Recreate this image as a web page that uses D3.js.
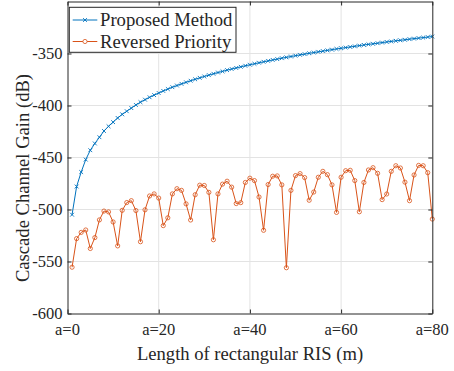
<!DOCTYPE html>
<html><head><meta charset="utf-8"><script src="https://cdn.jsdelivr.net/npm/d3@7"></script></head>
<body style="margin:0">
<script>
// RIS length index a = 1..80
const aValues = d3.range(1, 81);

const proposed = [
  -505.0, -477.9, -464.0, -452.0, -443.0, -436.5, -430.5, -424.5, -420.0, -416.0,
  -412.0, -408.5, -405.5, -402.5, -399.5, -396.8, -394.4, -392.1, -390.0, -388.0,
  -386.0, -384.2, -382.4, -380.8, -379.2, -377.7, -376.2, -374.8, -373.4, -372.1,
  -370.8, -369.5, -368.3, -367.2, -366.0, -364.9, -363.9, -362.8, -361.8, -360.8,
  -359.9, -358.9, -358.0, -357.1, -356.2, -355.4, -354.5, -353.7, -352.9, -352.1,
  -351.3, -350.6, -349.8, -349.1, -348.4, -347.7, -347.0, -346.3, -345.6, -345.0,
  -344.3, -343.7, -343.1, -342.4, -341.8, -341.2, -340.7, -340.1, -339.5, -338.9,
  -338.4, -337.8, -337.3, -336.8, -336.2, -335.7, -335.2, -334.7, -334.2, -333.7
];

const reversed = [
  -555.5, -528.0, -522.0, -519.7, -537.5, -527.0, -510.0, -501.5, -502.3, -512.0,
  -535.0, -500.8, -493.3, -491.5, -501.0, -531.0, -500.3, -487.0, -485.0, -489.0,
  -515.5, -508.0, -485.0, -480.0, -481.6, -494.6, -510.1, -485.8, -476.6, -476.9,
  -483.5, -529.1, -485.0, -475.6, -472.8, -478.5, -494.3, -493.4, -474.0, -469.9,
  -472.2, -488.0, -520.0, -476.0, -468.0, -467.7, -476.3, -556.0, -481.6, -467.4,
  -465.5, -469.3, -491.1, -483.2, -469.0, -463.3, -466.5, -476.3, -502.8, -469.0,
  -462.7, -462.3, -472.2, -502.2, -474.0, -462.0, -459.8, -465.2, -490.5, -485.1,
  -463.3, -457.9, -460.1, -473.7, -491.5, -466.8, -457.6, -457.9, -464.6, -509.2
];

const xTicks = [0, 20, 40, 60, 80];
const yTicks = [-600, -550, -500, -450, -400, -350];
const seriesNames = ["Proposed Method", "Reversed Priority"];
const colors = ["#0072BD", "#D95319"];

const width = 454, height = 371;
const plot = { left: 67.5, right: 432.3, top: 1.5, bottom: 313.5 };
const serif = "Liberation Serif";
const ink = "#262626";

const svg = d3.select("body").append("svg")
  .attr("width", width).attr("height", height)
  .attr("font-family", serif);

const x = d3.scaleLinear().domain([0, 80]).range([plot.left, plot.right]);
const y = d3.scaleLinear().domain([-600, -300]).range([plot.bottom, plot.top]);

// grid
const grid = svg.append("g").attr("stroke", "#e3e3e3").attr("stroke-width", 1);
grid.selectAll(".gx").data(xTicks.slice(1, -1)).join("line")
  .attr("x1", d => x(d)).attr("x2", d => x(d))
  .attr("y1", plot.top).attr("y2", plot.bottom);
grid.selectAll(".gy").data(yTicks.slice(1)).join("line")
  .attr("x1", plot.left).attr("x2", plot.right)
  .attr("y1", d => y(d)).attr("y2", d => y(d));

// series
const series = [proposed, reversed];
series.forEach((vals, i) => {
  const pts = vals.map((v, k) => [aValues[k], v]);
  svg.append("path")
    .datum(pts)
    .attr("fill", "none")
    .attr("stroke", colors[i])
    .attr("stroke-width", 1)
    .attr("d", d3.line().x(d => x(d[0])).y(d => y(d[1])));
  if (i === 0) {
    svg.append("g").selectAll("path").data(pts).join("path")
      .attr("transform", d => `translate(${x(d[0])},${y(d[1])})`)
      .attr("d", "M-1.9,-1.9L1.9,1.9M-1.9,1.9L1.9,-1.9")
      .attr("stroke", colors[i]).attr("stroke-width", 0.9).attr("fill", "none");
  } else {
    svg.append("g").selectAll("circle").data(pts).join("circle")
      .attr("cx", d => x(d[0])).attr("cy", d => y(d[1])).attr("r", 2.1)
      .attr("stroke", colors[i]).attr("stroke-width", 0.8).attr("fill", "none");
  }
});

// axes: frame and inward ticks
const axes = [
  svg.append("g").attr("transform", `translate(0,${plot.bottom})`)
    .call(d3.axisBottom(x).tickValues(xTicks).tickFormat("").tickSizeInner(-4).tickSizeOuter(0)),
  svg.append("g").attr("transform", `translate(${plot.left},0)`)
    .call(d3.axisLeft(y).tickValues(yTicks).tickFormat("").tickSizeInner(-4).tickSizeOuter(0)),
  svg.append("g").attr("transform", `translate(0,${plot.top})`)
    .call(d3.axisTop(x).tickValues(xTicks).tickFormat("").tickSizeInner(-4).tickSizeOuter(0)),
  svg.append("g").attr("transform", `translate(${plot.right},0)`)
    .call(d3.axisRight(y).tickValues(yTicks).tickFormat("").tickSizeInner(-4).tickSizeOuter(0))
];
axes.forEach(g => {
  g.select(".domain").attr("stroke", ink).attr("stroke-width", 1);
  g.selectAll(".tick line").attr("stroke", ink);
  g.selectAll(".tick text").remove();
});

// text layer
const txt = svg.append("g").attr("fill", ink);
txt.selectAll(".xl").data(xTicks).join("text")
  .attr("x", d => x(d)).attr("y", plot.bottom + 21)
  .attr("text-anchor", "middle")
  .style("font-family", serif).style("font-size", "16.5px")
  .text(d => "a=" + d);
txt.selectAll(".yl").data(yTicks).join("text")
  .attr("x", plot.left - 5).attr("y", d => y(d) + 5.5)
  .attr("text-anchor", "end")
  .style("font-family", serif).style("font-size", "16.5px")
  .text(d => String(d));

txt.append("text")
  .attr("x", 250).attr("y", 360)
  .attr("text-anchor", "middle")
  .style("font-family", serif).style("font-size", "18.6px")
  .text("Length of rectangular RIS (m)");
txt.append("text")
  .attr("transform", "translate(28.5,178) rotate(-90)")
  .attr("text-anchor", "middle")
  .style("font-family", serif).style("font-size", "18.6px")
  .text("Cascade Channel Gain (dB)");

// legend
const legend = svg.append("g");
legend.append("rect")
  .attr("x", 69.3).attr("y", 7.3).attr("width", 166.7).attr("height", 45)
  .attr("fill", "#fff").attr("stroke", ink).attr("stroke-width", 1);
seriesNames.forEach((name, i) => {
  const cy = 20 + i * 21.5;
  legend.append("line")
    .attr("x1", 72.7).attr("x2", 97.3).attr("y1", cy).attr("y2", cy)
    .attr("stroke", colors[i]).attr("stroke-width", 1);
  if (i === 0) {
    legend.append("path")
      .attr("transform", `translate(85,${cy})`)
      .attr("d", "M-1.9,-1.9L1.9,1.9M-1.9,1.9L1.9,-1.9")
      .attr("stroke", colors[i]).attr("stroke-width", 0.9);
  } else {
    legend.append("circle").attr("cx", 85).attr("cy", cy).attr("r", 2.1)
      .attr("stroke", colors[i]).attr("stroke-width", 0.8).attr("fill", "#fff");
  }
  legend.append("text")
    .attr("x", 100).attr("y", cy + 6.2).attr("fill", ink)
    .style("font-family", serif).style("font-size", "18.7px")
    .text(name);
});
</script>
</body>
</html>
